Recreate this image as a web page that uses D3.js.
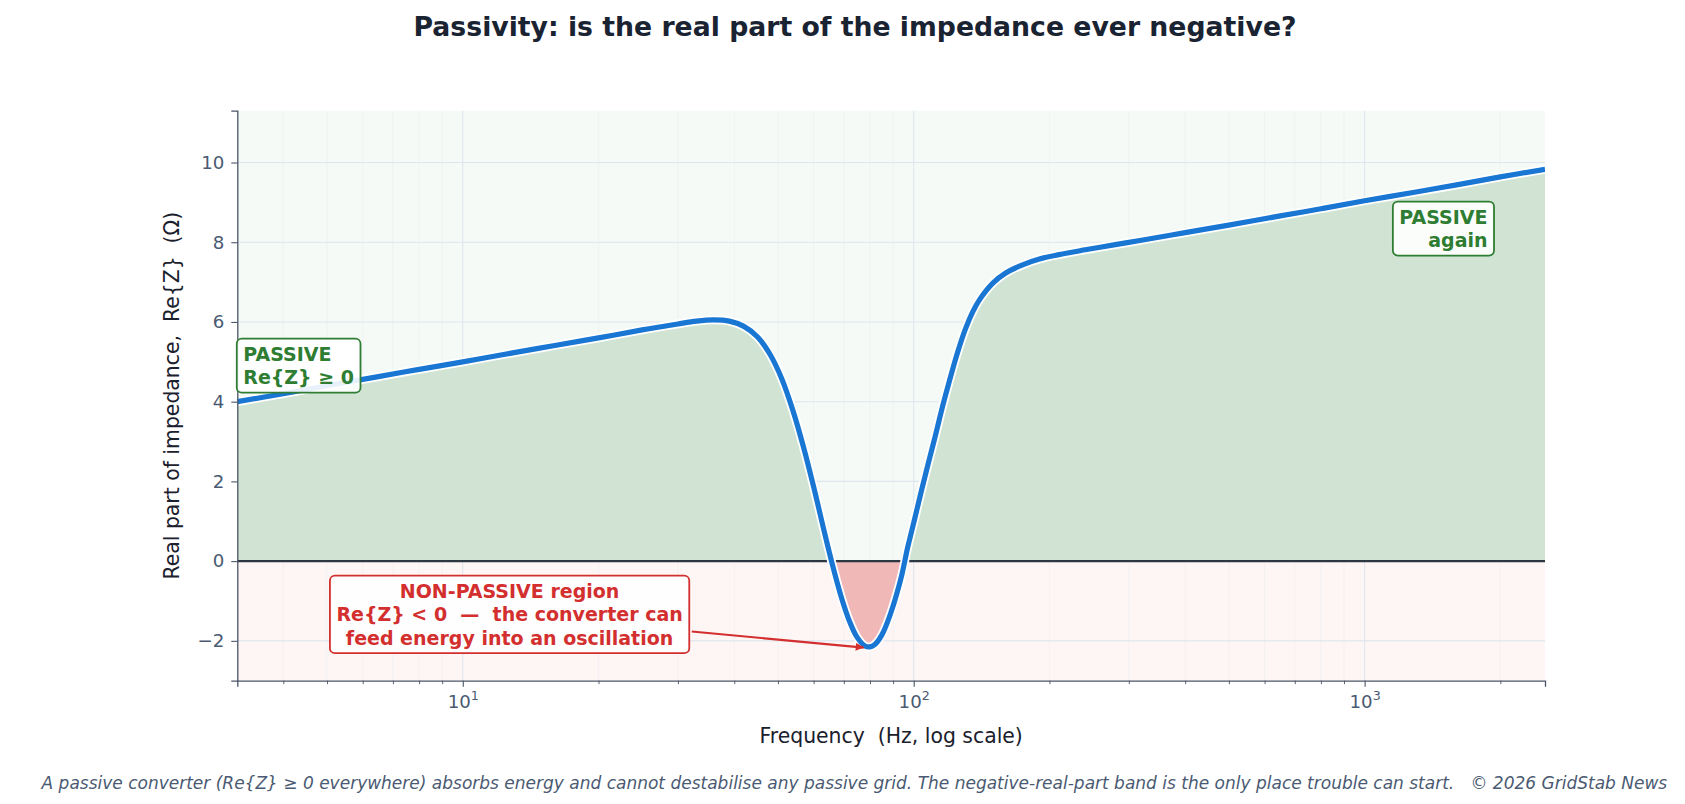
<!DOCTYPE html>
<html>
<head>
<meta charset="utf-8">
<script src="https://cdn.jsdelivr.net/npm/d3@7"></script>
<style>
    body { margin: 0; background: #ffffff; }
    svg { display: block; font-family: "DejaVu Sans", sans-serif; }
    svg text { white-space: pre; }
</style>
</head>
<body>
<svg id="chart" width="1685" height="804"></svg>
<script>
// values (Hz, ohm)
const freq = [3.162, 4, 5, 6.5, 8, 10, 13, 16, 20, 25, 30, 33, 36, 39, 42, 45, 48, 51, 54, 57,
    60, 63, 66, 69, 72, 75, 78, 80, 82, 85, 88, 91, 94, 97, 100, 104, 108, 112, 116, 120,
    125, 130, 135, 140, 150, 160, 175, 190, 210, 240, 280, 320, 400, 500, 650, 800, 1000,
    1300, 1600, 2000, 2512];
const reZ = [4.00, 4.20, 4.40, 4.63, 4.81, 5.00, 5.23, 5.41, 5.60, 5.80, 5.95, 6.02, 6.05, 6.02, 5.89, 5.63, 5.19, 4.57, 3.77, 2.85,
    1.86, 0.85, -0.08, -0.88, -1.50, -1.92, -2.13, -2.15, -2.09, -1.85, -1.45, -0.95, -0.37, 0.35, 0.96, 1.76, 2.50, 3.20, 3.90, 4.52,
    5.22, 5.80, 6.24, 6.56, 6.98, 7.23, 7.44, 7.58, 7.69, 7.81, 7.94, 8.05, 8.24, 8.43, 8.66, 8.84, 9.04,
    9.26, 9.44, 9.64, 9.83];

const xDomain = [3.162, 2512];
const yDomain = [-3, 11.3];
const yTicks = [-2, 0, 2, 4, 6, 8, 10];
const xMajorTicks = [10, 100, 1000];
const xMajorExponents = ["1", "2", "3"];

const titleText = "Passivity: is the real part of the impedance ever negative?";
const xLabelText = "Frequency  (Hz, log scale)";
const yLabelText = "Real part of impedance,  Re{Z}  (\u03a9)";
const footerText = "A passive converter (Re{Z} \u2265 0 everywhere) absorbs energy and cannot destabilise any passive grid. The negative-real-part band is the only place trouble can start.   \u00a9 2026 GridStab News";

// annotation anchors in data units [freq, value]
const passiveLeftLines = ["PASSIVE", "Re{Z} \u2265 0"];
const passiveLeftAt = [3.26, 4.9];
const passiveRightLines = ["PASSIVE", "again"];
const passiveRightAt = [1873, 8.34];
const nonPassiveLines = ["NON-PASSIVE region", "Re{Z} < 0  \u2014  the converter can", "feed energy into an oscillation"];
const nonPassiveAt = [12.7, -1.34];
const nonPassiveTarget = [77.5, -2.17];

class ReZChart {
    constructor(svg) {
        this.svg = svg;
        this.margin = {left: 237.3, top: 110.7, right: 1685 - 1545, bottom: 804 - 680.7};
        this.width = 1685 - this.margin.left - this.margin.right;
        this.height = 804 - this.margin.top - this.margin.bottom;
        this.green = "#2e7d32";
        this.red = "#d32f2f";
        this.tickColor = "#4a5a72";
    }

    init() {
        this.x = d3.scaleLog().domain(xDomain).range([0, this.width]);
        this.y = d3.scaleLinear().domain(yDomain).range([this.height, 0]);
        this.g = this.svg.append("g")
            .attr("transform", `translate(${this.margin.left},${this.margin.top})`);

        this.drawBands();
        this.drawGrid();
        this.drawCurve();
        this.drawAxes();
        this.drawAnnotations();
        this.drawTexts();
    }

    drawBands() {
        const y0 = this.y(0);
        this.g.append("rect")
            .attr("width", this.width).attr("height", y0)
            .attr("fill", "#f5faf6");
        this.g.append("rect")
            .attr("y", y0).attr("width", this.width).attr("height", this.height - y0)
            .attr("fill", "#fef6f5");

        const defs = this.svg.append("defs");
        defs.append("clipPath").attr("id", "clip-pos")
            .append("rect").attr("width", this.width).attr("height", y0);
        defs.append("clipPath").attr("id", "clip-neg")
            .append("rect").attr("y", y0).attr("width", this.width).attr("height", this.height - y0);
        defs.append("clipPath").attr("id", "clip-plot")
            .append("rect").attr("width", this.width).attr("height", this.height);
        defs.append("marker")
            .attr("id", "arrow-red")
            .attr("viewBox", "0 0 10 10")
            .attr("refX", 10).attr("refY", 5)
            .attr("markerWidth", 12).attr("markerHeight", 8)
            .attr("markerUnits", "userSpaceOnUse")
            .attr("orient", "auto")
            .append("path")
            .attr("d", "M0,0L10,5L0,10z")
            .attr("fill", this.red);
    }

    drawGrid() {
        const grid = this.g.append("g").attr("class", "grid");
        const minor = this.x.ticks().filter(t => xMajorTicks.indexOf(t) < 0);

        grid.selectAll(".minor-x")
            .data(minor)
            .join("line")
            .attr("x1", d => this.x(d)).attr("x2", d => this.x(d))
            .attr("y1", 0).attr("y2", this.height)
            .attr("stroke", "#e6ebf1").attr("stroke-opacity", 0.55)
            .attr("stroke-width", 0.8);

        grid.selectAll(".major-x")
            .data(xMajorTicks)
            .join("line")
            .attr("x1", d => this.x(d)).attr("x2", d => this.x(d))
            .attr("y1", 0).attr("y2", this.height)
            .attr("stroke", "#dfe5ee").attr("stroke-width", 1.1);

        grid.selectAll(".major-y")
            .data(yTicks)
            .join("line")
            .attr("x1", 0).attr("x2", this.width)
            .attr("y1", d => this.y(d)).attr("y2", d => this.y(d))
            .attr("stroke", "#dfe5ee").attr("stroke-width", 1.1);
    }

    drawCurve() {
        const pts = freq.map((f, i) => [f, reZ[i]]);
        const area = d3.area()
            .x(d => this.x(d[0]))
            .y0(this.y(0))
            .y1(d => this.y(d[1]))
            .curve(d3.curveCatmullRom.alpha(0.5));
        const line = d3.line()
            .x(d => this.x(d[0]))
            .y(d => this.y(d[1]))
            .curve(d3.curveCatmullRom.alpha(0.5));

        this.g.append("path")
            .datum(pts)
            .attr("clip-path", "url(#clip-pos)")
            .attr("d", area)
            .attr("fill", "#d1e4d4");
        this.g.append("path")
            .datum(pts)
            .attr("clip-path", "url(#clip-neg)")
            .attr("d", area)
            .attr("fill", "#f0b9b8");

        // zero line
        this.g.append("line")
            .attr("x1", 0).attr("x2", this.width)
            .attr("y1", this.y(0)).attr("y2", this.y(0))
            .attr("stroke", "#2d3741").attr("stroke-width", 2.4);

        const curve = this.g.append("g").attr("clip-path", "url(#clip-plot)");
        curve.append("path")
            .datum(pts)
            .attr("d", line)
            .attr("fill", "none")
            .attr("stroke", "#ffffff")
            .attr("stroke-width", 8.8)
            .attr("stroke-linejoin", "round");
        curve.append("path")
            .datum(pts)
            .attr("d", line)
            .attr("fill", "none")
            .attr("stroke", "#1976d2")
            .attr("stroke-width", 5.2)
            .attr("stroke-linejoin", "round");
    }

    drawAxes() {
        const yAxis = this.g.append("g")
            .call(d3.axisLeft(this.y).tickValues(yTicks).tickSize(6).tickPadding(7));
        yAxis.select(".domain").attr("stroke", "#4a5568").attr("stroke-width", 1.3);
        yAxis.selectAll(".tick line").attr("stroke", "#4a5568").attr("stroke-width", 1.1);
        yAxis.selectAll(".tick text")
            .attr("fill", this.tickColor)
            .style("font-size", "18.2px")
            .style("font-family", "DejaVu Sans");

        const minor = this.x.ticks().filter(t => xMajorTicks.indexOf(t) < 0);
        const xMinorAxis = this.g.append("g")
            .attr("transform", `translate(0,${this.height})`)
            .call(d3.axisBottom(this.x).tickValues(minor).tickSize(3.5).tickFormat(""));
        xMinorAxis.select(".domain").remove();
        xMinorAxis.selectAll(".tick line").attr("stroke", "#4a5568").attr("stroke-width", 0.9);

        const xAxis = this.g.append("g")
            .attr("transform", `translate(0,${this.height})`)
            .call(d3.axisBottom(this.x).tickValues(xMajorTicks).tickSize(6).tickFormat(""));
        xAxis.select(".domain").attr("stroke", "#4a5568").attr("stroke-width", 1.3);
        xAxis.selectAll(".tick line").attr("stroke", "#4a5568").attr("stroke-width", 1.1);

        const lab = xAxis.selectAll(".tick")
            .append("text")
            .attr("y", 27.5)
            .attr("text-anchor", "middle")
            .attr("fill", this.tickColor)
            .style("font-family", "DejaVu Sans")
            .style("font-size", "18.2px");
        lab.append("tspan").text("10");
        lab.append("tspan")
            .attr("dy", -8)
            .style("font-size", "12.7px")
            .text((d, i) => xMajorExponents[i]);
    }

    labelBox(lines, at, anchor, color) {
        const box = this.g.append("g");
        const tx = this.x(at[0]);
        const ty = this.y(at[1]);
        const lh = 23.6;
        const text = box.append("text")
            .attr("text-anchor", anchor)
            .attr("fill", color)
            .style("font-size", "19px")
            .style("font-weight", "bold");
        lines.forEach((l, i) => {
            text.append("tspan")
                .attr("x", tx)
                .attr("y", ty + (i - (lines.length - 1) / 2) * lh)
                .attr("dy", "0.36em")
                .text(l);
        });
        const bb = text.node().getBBox();
        const padX = 6.5, padY = 4.2;
        const rect = {x: bb.x - padX, y: bb.y - padY, w: bb.width + 2 * padX, h: bb.height + 2 * padY};
        box.insert("rect", "text")
            .attr("x", rect.x).attr("y", rect.y)
            .attr("width", rect.w).attr("height", rect.h)
            .attr("rx", 5).attr("ry", 5)
            .attr("fill", "#ffffff").attr("fill-opacity", 0.9)
            .attr("stroke", color).attr("stroke-width", 1.8);
        return rect;
    }

    drawAnnotations() {
        this.labelBox(passiveLeftLines, passiveLeftAt, "start", this.green);
        this.labelBox(passiveRightLines, passiveRightAt, "end", this.green);
        const r = this.labelBox(nonPassiveLines, nonPassiveAt, "middle", this.red);

        // arrow runs from box centre toward the dip, cut at the box edge
        const cx = r.x + r.w / 2, cy = r.y + r.h / 2;
        const tx = this.x(nonPassiveTarget[0]), ty = this.y(nonPassiveTarget[1]);
        const sx = r.x + r.w + 2.5;
        const sy = cy + (ty - cy) * (sx - cx) / (tx - cx);
        this.g.append("line")
            .attr("x1", sx).attr("y1", sy)
            .attr("x2", tx).attr("y2", ty)
            .attr("stroke", this.red)
            .attr("stroke-width", 2.2)
            .attr("marker-end", "url(#arrow-red)");
    }

    drawTexts() {
        this.svg.append("text")
            .attr("x", 855).attr("y", 36)
            .attr("text-anchor", "middle")
            .attr("fill", "#1a2332")
            .style("font-size", "26.7px")
            .style("font-weight", "bold")
            .text(titleText);

        this.svg.append("text")
            .attr("x", this.margin.left + this.width / 2).attr("y", 743)
            .attr("text-anchor", "middle")
            .attr("fill", "#1a202c")
            .style("font-size", "20.4px")
            .text(xLabelText);

        this.svg.append("text")
            .attr("transform", `translate(179,${this.margin.top + this.height / 2}) rotate(-90)`)
            .attr("text-anchor", "middle")
            .attr("fill", "#1a202c")
            .style("font-size", "20.4px")
            .text(yLabelText);

        this.svg.append("text")
            .attr("x", 854.4).attr("y", 789)
            .attr("text-anchor", "middle")
            .attr("fill", "#4a5a72")
            .style("font-size", "17px")
            .style("font-style", "italic")
            .text(footerText);
    }
}

const chart = new ReZChart(d3.select("#chart"));
chart.init();
</script>
</body>
</html>
